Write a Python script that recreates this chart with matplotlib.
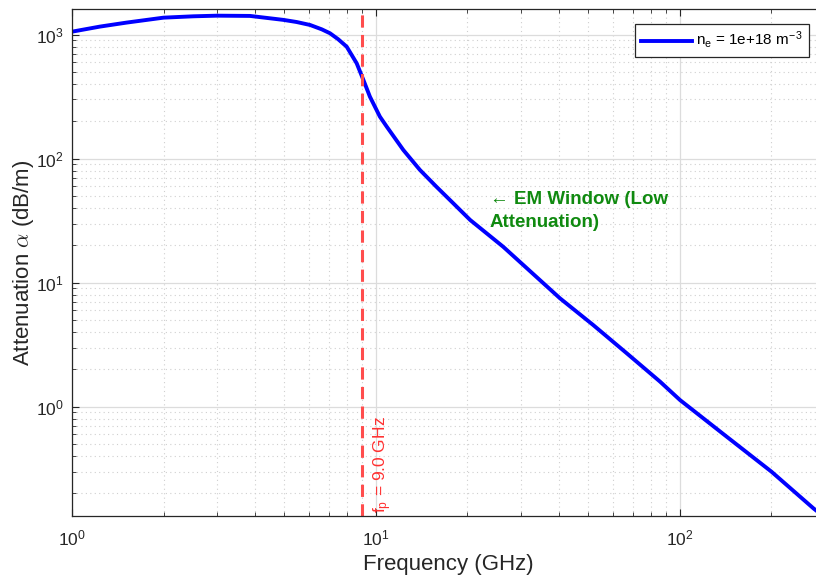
import numpy as np
import matplotlib
matplotlib.use('Agg')
import matplotlib.pyplot as plt
from matplotlib.ticker import LogLocator, NullFormatter

plt.rcParams['font.family'] = ['Liberation Sans', 'DejaVu Sans']
plt.rcParams['mathtext.fontset'] = 'cm'

# values (frequency in GHz, log10 of attenuation in dB/m)
freq_ghz = [1.0, 1.236, 1.51, 2.0, 2.51, 3.0, 3.85, 4.96, 5.48, 6.07, 6.63, 7.06,
            7.51, 8.01, 8.64, 9.09, 9.55, 10.3, 10.85, 12.3, 13.95, 15.8, 17.96,
            20.4, 26.2, 40.3, 51.8, 66.8, 86.0, 100.0, 142.5, 200.0, 274.6, 300.0]
log_atten = [3.024, 3.065, 3.097, 3.137, 3.148, 3.153, 3.151, 3.119, 3.102, 3.078,
             3.043, 3.011, 2.963, 2.903, 2.769, 2.635, 2.500, 2.339, 2.258, 2.070,
             1.909, 1.774, 1.640, 1.506, 1.290, 0.874, 0.659, 0.431, 0.202, 0.054,
             -0.242, -0.524, -0.819, -0.893]
atten_db_m = [10 ** v for v in log_atten]

plasma_freq = 9.0
density_label = r'$\mathdefault{n_e}$ = 1e+18 m$^{\mathdefault{-3}}$'
fp_label = r'$\mathdefault{f_p}$ = 9.0 GHz'
window_label = '\u2190 EM Window (Low\nAttenuation)'

fig = plt.figure(figsize=(8.16, 5.79), dpi=100)
ax = fig.add_axes([72 / 816, 1 - 516 / 579, 753 / 816, 507 / 579])

ax.loglog(freq_ghz, atten_db_m, color='#0000ff', linewidth=2.8, label=density_label,
          solid_joinstyle='round')
ax.axvline(plasma_freq, color='#ff4d4d', linewidth=2.2, dashes=(4, 2.4))
ax.text(9.65, 0.139, fp_label, color='#ff3030', fontsize=12.5, rotation=90,
        ha='left', va='bottom')
ax.text(23.7, 37.8, window_label, color='#108a10', fontsize=13.5, fontweight='bold',
        ha='left', va='center', linespacing=1.45)

ax.set_xlim(1, 300)
ax.set_ylim(0.1314, 1610)

ax.xaxis.set_minor_locator(LogLocator(base=10, subs=np.arange(2, 10), numticks=20))
ax.yaxis.set_minor_locator(LogLocator(base=10, subs=np.arange(2, 10), numticks=20))
ax.xaxis.set_minor_formatter(NullFormatter())
ax.yaxis.set_minor_formatter(NullFormatter())

ax.grid(True, which='major', color='#dcdcdc', linestyle='-', linewidth=0.9)
ax.grid(True, which='minor', color='#cfcfcf', linestyle=(0, (1, 3)), linewidth=0.8)
ax.set_axisbelow(True)

ax.tick_params(which='both', direction='in', top=True, right=True, colors='#262626',
               labelsize=12.5, labelcolor='#262626')
ax.tick_params(which='major', length=5, width=0.8)
ax.tick_params(which='minor', length=3, width=0.6)
ax.tick_params(axis='x', pad=9)
ax.tick_params(axis='y', pad=6)
for s in ax.spines.values():
    s.set_color('#262626')
    s.set_linewidth(0.9)

ax.set_xlabel('Frequency (GHz)', fontsize=16, color='#262626', labelpad=4)
ax.set_ylabel(r'Attenuation $\alpha$ (dB/m)', fontsize=16, color='#262626', labelpad=0)

leg = ax.legend(loc='upper right', bbox_to_anchor=(809 / 816, 1 - 24 / 579),
                bbox_transform=fig.transFigure, borderaxespad=0, fontsize=11,
                fancybox=False, framealpha=1, edgecolor='#262626',
                handlelength=3.3, handletextpad=0.3, borderpad=0.4)
leg.get_frame().set_linewidth(0.9)

fig.savefig('out.png', dpi=100)
